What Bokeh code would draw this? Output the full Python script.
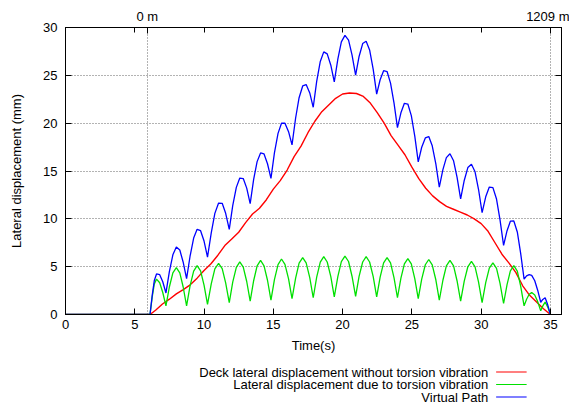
from bokeh.plotting import figure
from bokeh.layouts import column
from bokeh.models import Range1d, LinearAxis, FixedTicker
from bokeh.core.properties import value
from bokeh.embed import file_html
from bokeh.resources import INLINE

# ---- data ----
t = [0, 6.10, 6.26, 6.41, 6.57, 6.80, 7.02, 7.25, 7.50, 7.75, 8.00, 8.25, 8.49, 8.74,
     8.99, 9.25, 9.50, 9.75, 10.00, 10.25, 10.52, 10.78, 11.05, 11.31, 11.56, 11.82,
     12.07, 12.33, 12.58, 12.83, 13.08, 13.33, 13.58, 13.83, 14.08, 14.33, 14.58, 14.83,
     15.08, 15.34, 15.59, 15.84, 16.10, 16.35, 16.61, 16.86, 17.12, 17.37, 17.63, 17.88,
     18.13, 18.39, 18.64, 18.89, 19.15, 19.40, 19.66, 19.91, 20.17, 20.43, 20.68, 20.94,
     21.19, 21.45, 21.70, 21.95, 22.21, 22.46, 22.71, 22.96, 23.21, 23.46, 23.71, 23.96,
     24.21, 24.46, 24.71, 24.96, 25.21, 25.46, 25.71, 25.97, 26.22, 26.47, 26.73, 26.98,
     27.24, 27.49, 27.75, 28.01, 28.26, 28.52, 28.78, 29.04, 29.30, 29.56, 29.81, 30.07,
     30.33, 30.59, 30.85, 31.11, 31.36, 31.62, 31.87, 32.11, 32.36, 32.61, 32.85, 33.10,
     33.28, 33.47, 33.65, 33.87, 34.08, 34.30, 34.45, 34.62, 34.80, 35.00]

torsion = [0, 0, 1.85, 3.2, 3.7, 3.32, 2.3, 0.9, 2.9, 4.36, 4.9, 4.36, 2.9, 0.9,
           3.0, 4.54, 5.1, 4.56, 3.08, 1.05, 3.2, 4.77, 5.35, 4.8, 3.3, 1.25,
           3.38, 4.93, 5.5, 4.95, 3.45, 1.4, 3.53, 5.08, 5.65, 5.09, 3.58, 1.5,
           3.65, 5.22, 5.8, 5.24, 3.73, 1.65, 3.8, 5.37, 5.95, 5.39, 3.85, 1.75,
           3.9, 5.47, 6.05, 5.49, 3.95, 1.85, 3.98, 5.53, 6.1, 5.54, 4.0, 1.9,
           3.98, 5.49, 6.05, 5.49, 3.95, 1.85, 3.9, 5.4, 5.95, 5.39, 3.85, 1.75,
           3.8, 5.3, 5.85, 5.29, 3.75, 1.65, 3.7, 5.2, 5.75, 5.18, 3.63, 1.5,
           3.58, 5.09, 5.65, 5.08, 3.53, 1.4, 3.48, 4.99, 5.55, 4.97, 3.4, 1.25,
           3.33, 4.84, 5.4, 4.83, 3.28, 1.15, 3.13, 4.57, 5.1, 4.54, 3.0, 0.9,
           1.6, 2.11, 2.3, 2.05, 1.35, 0.4, 0.9, 1.3, 0.8, 0]

virtual = [0, 0, 2.03, 3.55, 4.24, 4.16, 3.42, 2.25, 4.5, 6.24, 7.05, 6.74, 5.49, 3.74,
           6.09, 7.99, 8.9, 8.76, 7.68, 6.0, 8.54, 10.57, 11.65, 11.62, 10.58, 8.9,
           11.38, 13.29, 14.26, 14.21, 13.21, 11.59, 14.13, 15.98, 16.89, 16.78, 15.76, 14.23,
           16.89, 18.93, 20.0, 19.99, 19.11, 17.73, 20.54, 22.66, 23.89, 24.03, 23.16, 21.66,
           24.36, 26.45, 27.45, 27.24, 26.06, 24.31, 26.72, 28.5, 29.18, 28.68, 27.13, 25.01,
           26.97, 28.32, 28.57, 27.66, 25.63, 23.03, 24.54, 25.49, 25.4, 24.19, 22.13, 19.53,
           21.08, 22.08, 22.0, 20.79, 18.65, 15.95, 17.48, 18.46, 18.6, 17.63, 15.75, 13.32,
           15.14, 16.4, 16.8, 16.07, 14.37, 12.09, 14.01, 15.36, 15.71, 14.92, 13.09, 10.64,
           12.3, 13.32, 13.26, 12.07, 9.92, 7.23, 8.76, 9.75, 9.78, 8.63, 6.42, 3.7,
           4.04, 4.17, 4.09, 3.53, 2.54, 1.28, 1.57, 1.75, 1.04, 0]

t_deck = [0, 6.1, 6.5, 7.0, 7.5, 8.0, 8.5, 9.0, 9.5, 10.0, 10.5, 11.0, 11.5, 12.0, 12.5,
          13.0, 13.5, 14.0, 14.5, 15.0, 15.5, 16.0, 16.5, 17.0, 17.5, 18.0, 18.5, 19.0,
          19.5, 20.0, 20.5, 21.0, 21.5, 22.0, 22.5, 23.0, 23.5, 24.0, 24.5, 25.0, 25.5,
          26.0, 26.5, 27.0, 27.5, 28.0, 28.5, 29.0, 29.5, 30.0, 30.5, 31.0, 31.5, 32.0,
          32.5, 33.0, 33.5, 34.0, 34.5, 35.0]
deck = [0, 0, 0.45, 1.1, 1.6, 2.15, 2.6, 3.1, 3.8, 4.6, 5.3, 6.2, 7.2, 7.9, 8.6,
        9.6, 10.5, 11.1, 12.0, 13.1, 14.0, 15.1, 16.5, 17.6, 19.0, 20.2, 21.2, 21.9,
        22.6, 23.05, 23.15, 23.1, 22.8, 22.1, 21.1, 20.0, 18.7, 17.7, 16.7, 15.4, 14.2,
        13.2, 12.4, 11.8, 11.3, 11.0, 10.7, 10.4, 10.0, 9.5, 8.7, 7.5, 6.3, 5.4,
        4.4, 3.0, 2.0, 1.3, 0.6, 0]

x_ticks = [0, 5, 10, 15, 20, 25, 30, 35]
y_ticks = [0, 5, 10, 15, 20, 25, 30]
top_ticks = [5.9, 35]
top_labels = ["0 m", "1209 m"]
series_names = ["Deck lateral displacement without torsion vibration",
                "Lateral displacement due to torsion vibration",
                "Virtual Path"]
series_colors = ["#ff0000", "#00e000", "#0000ff"]

FONT = "Liberation Sans"
FS = "13px"

p = figure(width=569, height=358, x_range=Range1d(0, 35.8), y_range=Range1d(0, 30),
           output_backend="svg", toolbar_location=None,
           min_border_left=65, min_border_right=8, min_border_top=27, min_border_bottom=44)
p.background_fill_color = "white"
p.border_fill_color = "white"
p.outline_line_color = "black"
p.outline_line_width = 1

xa = p.xaxis[0]
xa.ticker = FixedTicker(ticks=x_ticks)
xa.axis_label = "Time(s)"
ya = p.yaxis[0]
ya.ticker = FixedTicker(ticks=y_ticks)
ya.axis_label = "Lateral displacement (mm)"

for ax in (xa, ya):
    ax.major_tick_in = 6
    ax.major_tick_out = 0
    ax.minor_tick_in = 0
    ax.minor_tick_out = 0
    ax.axis_line_color = "black"
    ax.major_tick_line_color = "black"
    ax.major_label_text_font = FONT
    ax.major_label_text_font_size = FS
    ax.major_label_text_color = "black"
    ax.axis_label_text_font = FONT
    ax.axis_label_text_font_size = FS
    ax.axis_label_text_font_style = "normal"
    ax.axis_label_text_color = "black"
xa.major_label_standoff = 5
xa.axis_label_standoff = 6
ya.major_label_standoff = 8
ya.axis_label_standoff = 16

top = LinearAxis(ticker=FixedTicker(ticks=top_ticks, minor_ticks=x_ticks),
                 major_label_overrides={k: v for k, v in zip(top_ticks, top_labels)})
top.major_tick_in = 6
top.major_tick_out = 0
top.minor_tick_in = 5
top.minor_tick_out = 0
top.major_label_standoff = 4
top.major_label_text_font = FONT
top.major_label_text_font_size = FS
top.major_label_text_color = "black"
p.add_layout(top, "above")

right = LinearAxis(ticker=FixedTicker(ticks=[], minor_ticks=y_ticks))
right.minor_tick_in = 6
right.minor_tick_out = 0
right.major_tick_in = 0
right.major_tick_out = 0
p.add_layout(right, "right")

p.xgrid.ticker = FixedTicker(ticks=top_ticks)
p.ygrid.ticker = FixedTicker(ticks=y_ticks[1:-1])
for g in (p.xgrid[0], p.ygrid[0]):
    g.grid_line_color = "#666666"
    g.grid_line_dash = "1 2"
    g.grid_line_width = 1

p.line(t_deck, deck, line_color=series_colors[0], line_width=1.4)
p.line(t, torsion, line_color=series_colors[1], line_width=1.3)
p.line(t, virtual, line_color=series_colors[2], line_width=1.3)

# legend panel below (gnuplot style: right-aligned text, sample line on the right)
lg = figure(width=569, height=48, x_range=Range1d(0, 569), y_range=Range1d(48, 0),
            output_backend="svg", toolbar_location=None,
            x_axis_type=None, y_axis_type=None,
            min_border_left=0, min_border_right=0, min_border_top=0, min_border_bottom=0)
lg.outline_line_color = None
lg.xgrid.visible = False
lg.ygrid.visible = False
lg.background_fill_color = "white"
lg.border_fill_color = "white"
rows = [13.5, 26.0, 38.5]
lg.text(x=[485] * 3, y=rows, text=series_names, text_align="right", text_baseline="middle",
        text_font=value(FONT), text_font_size=FS, text_color="black")
lg.segment(x0=[494] * 3, y0=rows, x1=[529] * 3, y1=rows, line_color=series_colors,
           line_width=1.2)

open("out.html", "w").write(file_html(column(p, lg, spacing=0), INLINE))
